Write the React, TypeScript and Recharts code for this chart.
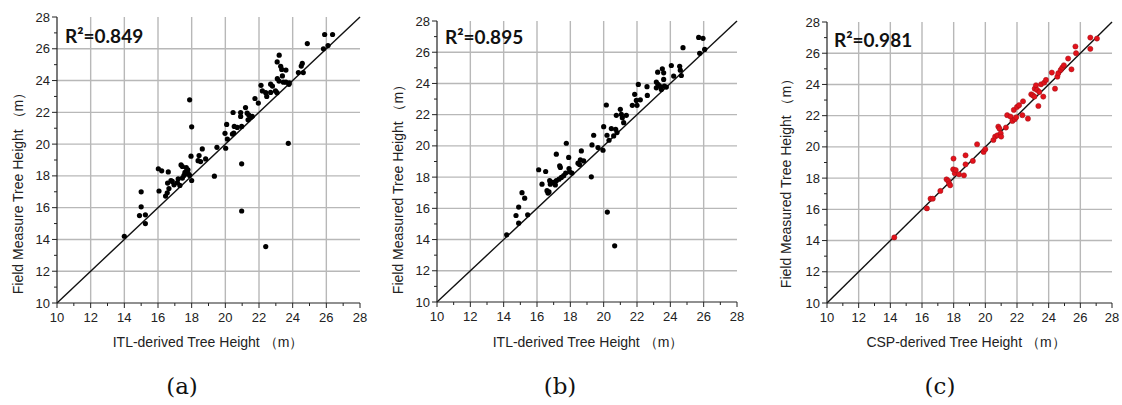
import React from "react";
import {
  ScatterChart,
  Scatter,
  XAxis,
  YAxis,
  CartesianGrid,
  ReferenceLine
} from "recharts";

// axis ticks: every metre gets a tick, every 2 m a label + grid line
const axisTicks = [10, 11, 12, 13, 14, 15, 16, 17, 18, 19, 20, 21, 22, 23, 24, 25, 26, 27, 28];
const gridTicks = [12, 14, 16, 18, 20, 22, 24, 26];
const oneToOne = [10, 28];

// (a) ITL-derived vs field measure
const itlA: [number, number][] = [
  [14.0, 14.2], [14.9, 15.5], [15.0, 17.0], [15.0, 16.05], [15.25, 15.55], [15.25, 15.0],
  [16.06, 17.05], [16.02, 18.45], [16.22, 18.32], [16.61, 18.25], [16.45, 16.73], [16.55, 16.94],
  [16.65, 17.2], [16.57, 17.55], [16.77, 17.7], [16.85, 17.65], [16.95, 17.44], [17.15, 17.57],
  [17.2, 17.82], [17.3, 17.4], [17.37, 18.69], [17.45, 18.59], [17.45, 17.86], [17.54, 18.03],
  [17.6, 18.23], [17.68, 18.52], [17.68, 18.13], [17.78, 18.38], [17.8, 18.15], [17.88, 18.03],
  [17.88, 22.79], [18.0, 21.09], [17.96, 19.24], [18.0, 17.71], [18.38, 18.96], [18.44, 19.28],
  [18.53, 18.9], [18.63, 19.7], [18.83, 19.07], [19.35, 17.98], [19.5, 19.8], [20.02, 19.74],
  [19.98, 20.68], [20.08, 21.24], [20.12, 20.32], [20.42, 20.63], [20.5, 20.7], [20.46, 21.99],
  [20.53, 21.11], [20.71, 21.05], [20.91, 21.99], [20.91, 21.74], [20.97, 21.11], [20.97, 18.76],
  [20.97, 15.79], [21.2, 22.3], [21.3, 21.95], [21.4, 21.82], [21.35, 21.53], [21.5, 21.68],
  [21.6, 21.75], [21.76, 22.87], [21.96, 22.58], [22.12, 23.7], [22.2, 23.35], [22.4, 23.24],
  [22.46, 23.0], [22.69, 23.77], [22.8, 23.65], [22.69, 23.25], [22.98, 23.35], [23.07, 23.24],
  [23.08, 25.17], [23.2, 25.6], [23.29, 24.9], [23.35, 24.7], [23.6, 24.66], [23.09, 24.12],
  [23.19, 23.97], [23.39, 24.29], [23.45, 23.9], [23.6, 23.9], [23.78, 23.76], [23.8, 23.85],
  [23.74, 20.05], [22.4, 13.55], [24.34, 24.5], [24.51, 24.91], [24.57, 25.08], [24.63, 24.5],
  [24.87, 26.33], [25.83, 26.0], [25.9, 26.9], [26.1, 26.2], [26.37, 26.9]
];

// (b) ITL-derived vs field measured
const itlB: [number, number][] = [
  [14.18, 14.3], [14.74, 15.54], [14.9, 16.08], [14.9, 15.05], [15.1, 17.0], [15.26, 16.65],
  [15.44, 15.59], [16.1, 18.47], [16.3, 17.55], [16.52, 18.36], [16.6, 17.13], [16.66, 16.98],
  [16.72, 17.05], [16.76, 17.77], [16.8, 17.55], [16.96, 17.66], [17.1, 17.5], [17.16, 17.77],
  [17.16, 19.47], [17.32, 17.87], [17.36, 18.72], [17.4, 18.62], [17.46, 17.98], [17.6, 18.09],
  [17.72, 18.26], [17.76, 20.17], [17.9, 19.26], [17.92, 18.55], [17.96, 18.34], [18.1, 18.26],
  [18.46, 18.89], [18.55, 18.8], [18.6, 19.11], [18.66, 19.68], [18.8, 19.04], [19.26, 18.02],
  [19.3, 20.06], [19.4, 20.68], [19.66, 19.89], [19.96, 19.72], [20.0, 21.23], [20.16, 22.62],
  [20.2, 20.68], [20.32, 20.36], [20.46, 21.11], [20.6, 20.64], [20.72, 21.06], [20.8, 20.85],
  [20.76, 21.96], [21.0, 22.34], [21.06, 22.02], [21.12, 21.81], [21.2, 21.49], [21.36, 21.96],
  [20.22, 15.76], [20.66, 13.6], [21.72, 22.6], [21.86, 23.3], [21.96, 22.91], [22.0, 22.6],
  [22.08, 23.94], [22.2, 22.95], [22.6, 23.79], [22.62, 23.23], [23.16, 24.09], [23.16, 23.72],
  [23.24, 24.72], [23.26, 23.94], [23.35, 23.85], [23.46, 23.62], [23.52, 24.94], [23.6, 24.68],
  [23.6, 24.26], [23.64, 23.83], [23.76, 23.77], [24.06, 25.15], [24.2, 24.47], [24.56, 25.1],
  [24.6, 24.85], [24.66, 24.51], [24.76, 26.29], [25.7, 26.95], [25.76, 25.93], [25.96, 26.89],
  [26.06, 26.18]
];

// (c) CSP-derived vs field measured
const cspC: [number, number][] = [
  [14.25, 14.2], [16.31, 16.06], [16.54, 16.68], [16.68, 16.68], [17.16, 17.18], [17.55, 17.92],
  [17.66, 17.82], [17.72, 17.65], [17.78, 17.54], [17.97, 18.56], [17.99, 19.25], [18.07, 18.31],
  [18.13, 18.52], [18.34, 18.24], [18.65, 18.18], [18.75, 19.46], [18.75, 18.88], [19.21, 19.1],
  [19.48, 20.17], [19.89, 19.68], [20.0, 19.85], [20.51, 20.44], [20.62, 20.66], [20.76, 20.74],
  [20.82, 21.3], [20.89, 21.17], [20.97, 20.87], [21.0, 20.66], [21.3, 21.24], [21.38, 22.03],
  [21.59, 21.94], [21.71, 21.66], [21.8, 22.37], [21.86, 21.77], [21.95, 21.9], [22.0, 22.56],
  [22.13, 22.67], [22.34, 22.03], [22.38, 22.92], [22.69, 21.81], [22.9, 23.37], [23.0, 23.3],
  [23.1, 23.22], [23.12, 23.73], [23.2, 23.95], [23.27, 23.65], [23.35, 22.62], [23.41, 23.52],
  [23.52, 24.01], [23.66, 23.22], [23.72, 24.12], [23.83, 24.29], [24.2, 24.76], [24.4, 23.73],
  [24.55, 24.5], [24.61, 24.72], [24.76, 24.93], [24.86, 25.08], [24.96, 25.23], [25.23, 25.66],
  [25.44, 24.97], [25.69, 26.43], [25.73, 26.0], [26.63, 27.0], [26.63, 26.28], [27.05, 26.94]
];

const sansFont = "'Liberation Sans', Arial, sans-serif";
const ink = "#222";

const YTick = (props: any) => {
  const { x, y, payload } = props;
  const v = payload.value;
  const major = v % 2 === 0;
  return (
    <g>
      <line x1={x} x2={x - (major ? 5 : 3)} y1={y} y2={y} stroke={ink} strokeWidth={1} />
      {major && (
        <text x={x - 7} y={y} dy={4.5} textAnchor="end" fontSize={13} fill={ink} fontFamily={sansFont}>
          {v}
        </text>
      )}
    </g>
  );
};

const XTick = (props: any) => {
  const { x, y, payload } = props;
  const v = payload.value;
  const major = v % 2 === 0;
  return (
    <g>
      <line x1={x} x2={x} y1={y} y2={y + (major ? 5 : 3)} stroke={ink} strokeWidth={1} />
      {major && (
        <text x={x} y={y + 19} textAnchor="middle" fontSize={13} fill={ink} fontFamily={sansFont}>
          {v}
        </text>
      )}
    </g>
  );
};

type PanelProps = {
  points: [number, number][];
  color: string;
  left: number;
  top: number;
  right: number;
  bottom: number;
};

const CHART_H = 360;
const Y_W = 57;
const RIGHT_PAD = 8;

function Panel({ points, color, left, top, right, bottom }: PanelProps) {
  const data = points.map(([x, y]) => ({ x, y }));
  const width = Y_W + (right - left) + RIGHT_PAD;
  return (
    <div style={{ position: "absolute", left: left - Y_W, top: 0 }}>
      <ScatterChart
        width={width}
        height={CHART_H}
        margin={{ top, right: RIGHT_PAD, left: 0, bottom: 0 }}
        style={{ overflow: "visible" }}
      >
        <CartesianGrid
          stroke="#b8b8b8"
          strokeWidth={1.4}
          horizontalValues={gridTicks}
          verticalValues={gridTicks}
        />
        <XAxis
          type="number"
          dataKey="x"
          domain={[10, 28]}
          ticks={axisTicks}
          interval={0}
          height={CHART_H - bottom}
          tickSize={0}
          tickMargin={0}
          tickLine={false}
          tick={<XTick />}
          axisLine={{ stroke: ink, strokeWidth: 1.2 }}
        />
        <YAxis
          type="number"
          dataKey="y"
          domain={[10, 28]}
          ticks={axisTicks}
          interval={0}
          width={Y_W}
          tickSize={0}
          tickMargin={0}
          tickLine={false}
          tick={<YTick />}
          axisLine={{ stroke: ink, strokeWidth: 1.2 }}
        />
        <ReferenceLine
          segment={[
            { x: oneToOne[0], y: oneToOne[0] },
            { x: oneToOne[1], y: oneToOne[1] }
          ]}
          stroke="#111"
          strokeWidth={1.4}
        />
        <Scatter
          data={data}
          isAnimationActive={false}
          shape={(p: any) => (
            <circle
              cx={p.cx}
              cy={p.cy}
              r={2.6}
              fill={color}
              stroke={color === "#000" ? "none" : "#9a1016"}
              strokeWidth={0.5}
            />
          )}
        />
      </ScatterChart>
    </div>
  );
}

const abs = (extra: React.CSSProperties): React.CSSProperties => ({
  position: "absolute",
  whiteSpace: "nowrap",
  ...extra
});

function YTitle({ text, x, y }: { text: string; x: number; y: number }) {
  return (
    <div
      style={abs({
        left: x,
        top: y,
        transform: "translate(-50%, -50%) rotate(-90deg)",
        fontFamily: sansFont,
        fontSize: 14,
        color: ink
      })}
    >
      {text}
    </div>
  );
}

function XTitle({ text, x, y }: { text: string; x: number; y: number }) {
  return (
    <div
      style={abs({
        left: x,
        top: y,
        transform: "translate(-50%, -50%)",
        fontFamily: sansFont,
        fontSize: 14,
        color: ink
      })}
    >
      {text}
    </div>
  );
}

function RSquared({ text, x, y }: { text: string; x: number; y: number }) {
  return (
    <div
      style={abs({
        left: x,
        top: y,
        transform: "translateY(-50%)",
        fontFamily: "Lato, 'Open Sans', sans-serif",
        fontWeight: 700,
        fontSize: 19,
        color: "#111"
      })}
    >
      {text}
    </div>
  );
}

function Caption({ text, x }: { text: string; x: number }) {
  return (
    <div
      style={abs({
        left: x,
        top: 386,
        transform: "translate(-50%, -50%)",
        fontFamily: "'DejaVu Serif', serif",
        fontSize: 23,
        color: "#111"
      })}
    >
      {text}
    </div>
  );
}

export default function App() {
  return (
    <div
      style={{
        position: "absolute",
        left: 0,
        top: 0,
        width: 1122,
        height: 405,
        background: "#fff",
        overflow: "hidden"
      }}
    >
      <Panel points={itlA} color="#000" left={57} top={17} right={360} bottom={303} />
      <Panel points={itlB} color="#000" left={437} top={21} right={737} bottom={302} />
      <Panel points={cspC} color="#e3121b" left={827} top={22} right={1112} bottom={303} />

      <YTitle text="Field Measure Tree Height （m）" x={19} y={190} />
      <YTitle text="Field Measured Tree Height （m）" x={399} y={186} />
      <YTitle text="Field Measured Tree Height （m）" x={787} y={180} />

      <XTitle text="ITL-derived Tree Height （m）" x={208} y={343} />
      <XTitle text="ITL-derived Tree Height （m）" x={588} y={343} />
      <XTitle text="CSP-derived Tree Height （m）" x={966} y={343} />

      <RSquared text="R²=0.849" x={65} y={35} />
      <RSquared text="R²=0.895" x={445} y={36} />
      <RSquared text="R²=0.981" x={834} y={39} />

      <Caption text="(a)" x={182} />
      <Caption text="(b)" x={560} />
      <Caption text="(c)" x={940} />
    </div>
  );
}
